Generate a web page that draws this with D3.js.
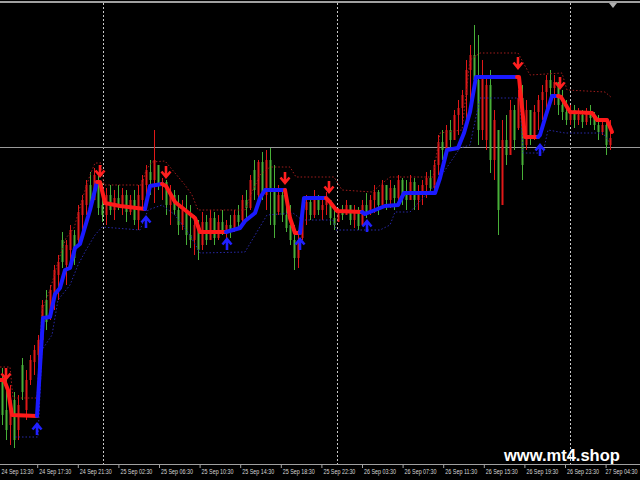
<!DOCTYPE html>
<html>
<head>
<meta charset="utf-8">
<script src="https://cdn.jsdelivr.net/npm/d3@7"></script>
<style>
  html, body { margin: 0; padding: 0; background: #000; }
  svg { display: block; }
</style>
</head>
<body>
<script>
// ---------------- DATA (price in points) ----------------
const opens = [100,70,55,80,50,115,70,100,118,125,140,180,162,185,205,240,215,230,245,240,265,275,295,280,300,275,265,285,270,282,275,285,268,280,260,280,295,308,300,315,295,298,275,285,270,255,270,245,240,255,235,258,240,262,242,258,250,255,250,265,260,280,272,310,285,318,285,320,290,268,285,265,255,240,222,242,270,278,265,282,270,275,280,262,258,268,265,275,260,268,255,275,268,280,288,275,295,280,292,282,300,285,280,298,280,288,295,302,292,315,338,330,350,340,365,372,385,410,425,400,350,340,395,320,350,275,340,325,370,352,382,335,370,345,368,380,388,400,392,398,375,368,360,370,360,365,358,368,362,355,348,355,335];
const highs = [112,108,95,88,85,122,110,125,135,145,180,190,195,215,225,248,240,255,250,275,285,300,308,312,305,297,292,295,290,295,292,290,285,290,295,305,315,320,350,315,302,300,295,290,285,280,285,275,265,260,268,265,270,268,265,270,260,265,270,275,285,290,305,320,320,328,330,332,315,295,290,280,275,255,250,275,285,280,290,285,282,288,280,275,272,275,280,275,275,273,280,287,285,295,290,300,295,300,295,305,302,300,305,302,295,300,308,310,320,345,350,355,360,370,380,390,420,435,455,445,420,405,410,370,350,360,365,380,375,390,395,380,370,375,385,395,405,410,405,395,390,380,375,375,372,370,372,375,368,365,362,360,360];
const lows = [55,40,35,32,40,80,60,95,105,112,135,150,160,170,180,212,195,218,215,235,245,265,268,280,265,258,255,265,260,270,265,258,265,255,250,270,280,285,277,290,280,265,255,265,245,250,235,232,225,220,230,235,240,235,240,245,240,242,248,252,258,262,270,280,277,280,270,255,242,265,258,248,235,210,212,240,255,260,262,265,260,265,255,250,258,260,265,255,252,250,255,262,265,267,265,275,270,272,270,280,275,270,280,270,270,275,282,285,290,305,320,330,332,340,345,355,360,380,385,335,340,330,307,300,245,275,315,335,330,350,300,330,335,340,350,360,370,380,375,365,360,355,355,352,355,352,355,355,350,340,345,325,330];
const closes = [65,50,80,40,75,88,100,120,130,140,175,158,190,210,218,218,235,250,222,268,280,295,275,305,272,265,285,270,282,275,285,268,280,260,285,300,310,300,320,295,298,275,285,270,255,270,245,240,255,230,258,240,262,242,258,250,255,248,265,258,280,272,300,290,318,285,320,290,255,285,265,252,240,222,240,270,278,265,282,270,275,280,262,255,268,265,275,260,268,254,275,268,280,288,275,295,280,292,282,300,285,280,298,280,288,295,302,292,315,338,330,350,340,365,372,385,410,425,400,350,405,395,320,360,270,340,325,370,340,382,315,370,345,368,380,388,400,392,398,375,368,360,370,360,365,358,368,362,355,348,355,335,342];

// trend line knots (bar position, value, direction)
const trendIdx = [-0.5,0.5,1.5,2.5,8.75,10.25,12,13.25,14.5,15.75,17,18.25,19.5,20.75,22,23.75,24.5,25.75,29.5,35.75,37,40,41,43.25,45.75,48.25,49.5,56,59.5,60.75,63.25,64.5,65.75,70.75,72,73.25,74.5,75.5,81,82,83.75,90,90.75,95.75,99,100.5,108.25,109.5,111.25,114,115.5,117,118.5,128.75,129.25,130.75,134,134.5,136,137.5,139,139.75,142,147.5,148.75,151.25,152.5];
const trendVal = [100,100,90,65,64,162,163,186,192,210,212,232,236,253,270,298,298,277,274,271,294,296,294,278,270,262,248,248,252,259,267,282,290,290,262,247,247,282,282,278,269,268,266,274,275,287,287,302,330,332,347,368,403,403,403,343,343,345,365,384,384,383,368,367,360,360,348];
const trendDir = ["up","dn","dn","dn","dn","up","up","up","up","up","up","up","up","up","up","up","dn","dn","dn","dn","up","up","dn","dn","dn","dn","dn","dn","up","up","up","up","up","up","dn","dn","dn","up","up","dn","dn","dn","up","up","up","up","up","up","up","up","up","up","up","up","dn","dn","dn","up","up","up","up","dn","dn","dn","dn","dn","dn"];

// upper / lower envelope knots
const upperIdx = [-0.5,2,2.75,8.75,10,12,14,16,18,20,22,23.25,24.75,25.5,35,36,37.5,40.75,43.25,45.75,47.5,49,60.75,62.5,64.5,67,72,73.5,83,85,92.5,97,107.75,109.5,115,117,119.5,129,132,140,141.25,150.75,152.5];
const upperVal = [113,113,82,82,170,190,218,242,252,280,305,317,317,295,295,310,318,319,307,295,285,270,270,288,305,313,313,303,303,290,288,303,303,347,350,420,427,427,405,407,390,388,382];
const lowerIdx = [3.25,9,10,12.5,14,17,19,21,23.25,25,34.5,36.5,40,43.25,47,49.5,60.75,66.25,72.75,75,82.75,83.5,94.5,97,98.25,102,108.25,114.5,117,119.5,129.5,130.25,135.25,136.5,140.75,150.25,152];
const lowerVal = [43,43,130,145,180,195,215,230,245,253,250,270,275,265,245,227,228,265,267,260,260,250,250,255,268,268,295,332,335,382,382,327,327,350,347,347,337];

// signal arrows
const sellIdx = [1,24.5,41,70.75,81.75,129,139.5];
const sellVal = [106,309,308,302,293,417,397];
const buyIdx = [8.75,36,56.25,74.5,91.25,134.5];
const buyVal = [51,258,236,236,254,330];

// day separators, bid line
const daySepIdx = [25.25,83.75,142];
const bidPrice = 333;

// time axis
const tickIdx = [-1.35,8.8,18.95,29.1,39.25,49.4,59.55,69.7,79.85,90,100.15,110.3,120.45,130.6,140.75,150.9];
const tickLabels = ["24 Sep 13:30","24 Sep 17:30","24 Sep 21:30","25 Sep 02:30","25 Sep 06:30","25 Sep 10:30","25 Sep 14:30","25 Sep 18:30","25 Sep 22:30","26 Sep 03:30","26 Sep 07:30","26 Sep 11:30","26 Sep 15:30","26 Sep 19:30","26 Sep 23:30","27 Sep 04:30"];

// ---------------- DRAW ----------------
const W = 640, H = 480, plotTop = 3, plotBottom = 464;
const x = d3.scaleLinear().domain([-0.5, 159.5]).range([0, W]);
const y = d3.scaleLinear().domain([0, 480]).range([480, 0]);

const svg = d3.select("body").append("svg").attr("width", W).attr("height", H)
  .style("background", "#000");
svg.append("rect").attr("width", W).attr("height", H).attr("fill", "#000");

svg.append("defs").append("clipPath").attr("id", "plot")
  .append("rect").attr("x", 0).attr("y", plotTop).attr("width", W).attr("height", plotBottom - plotTop);

const g = svg.append("g").attr("clip-path", "url(#plot)");

// day separators
g.selectAll("line.sep").data(daySepIdx).join("line")
  .attr("x1", d => Math.round(x(d)) + 0.5).attr("x2", d => Math.round(x(d)) + 0.5)
  .attr("y1", plotTop).attr("y2", plotBottom)
  .attr("stroke", "#c8c8c8").attr("stroke-width", 1).attr("stroke-dasharray", "2,2");

// bid line
g.append("line").attr("x1", 0).attr("x2", W)
  .attr("y1", Math.round(y(bidPrice)) + 0.5).attr("y2", Math.round(y(bidPrice)) + 0.5)
  .attr("stroke", "#9a9a9a").attr("stroke-width", 1);

// candles
const bars = d3.range(opens.length).map(i => ({i, o: opens[i], h: highs[i], l: lows[i], c: closes[i]}));
const col = d => d.c >= d.o ? "#e01818" : "#48b038";
g.selectAll("line.wick").data(bars).join("line")
  .attr("x1", d => x(d.i) + 0.5).attr("x2", d => x(d.i) + 0.5)
  .attr("y1", d => y(d.h)).attr("y2", d => y(d.l))
  .attr("stroke", col).attr("stroke-width", 1);
g.selectAll("rect.body").data(bars).join("rect")
  .attr("x", d => x(d.i) - 0.5).attr("width", 2)
  .attr("y", d => y(Math.max(d.o, d.c)))
  .attr("height", d => Math.max(1, Math.abs(y(d.o) - y(d.c))))
  .attr("fill", col);

// envelopes
const line = d3.line().x(d => x(d[0])).y(d => y(d[1]));
g.append("path").attr("d", line(upperIdx.map((v, k) => [v, upperVal[k]])))
  .attr("fill", "none").attr("stroke", "#a01c1c").attr("stroke-width", 1).attr("stroke-dasharray", "1.5,2");
g.append("path").attr("d", line(lowerIdx.map((v, k) => [v, lowerVal[k]])))
  .attr("fill", "none").attr("stroke", "#2828a8").attr("stroke-width", 1).attr("stroke-dasharray", "1.5,2");

// trend line: runs of same colour
const runs = [];
for (let k = 1; k < trendIdx.length; k++) {
  const dir = trendDir[k];
  const last = runs[runs.length - 1];
  if (last && last.dir === dir) last.pts.push([trendIdx[k], trendVal[k]]);
  else runs.push({dir, pts: [[trendIdx[k - 1], trendVal[k - 1]], [trendIdx[k], trendVal[k]]]});
}
g.selectAll("path.trend").data(runs).join("path")
  .attr("d", d => line(d.pts)).attr("fill", "none")
  .attr("stroke", d => d.dir === "up" ? "#1a1aff" : "#ff1a1a")
  .attr("stroke-width", 4).attr("stroke-linejoin", "round").attr("stroke-linecap", "round");

// arrows
const arrowDown = "M0,-6 V4 M-4.5,-0.5 L0,5 L4.5,-0.5";
const arrowUp = "M0,6 V-4 M-4.5,0.5 L0,-5 L4.5,0.5";
g.selectAll("path.sell").data(sellIdx.map((v, k) => [v, sellVal[k]])).join("path")
  .attr("transform", d => `translate(${x(d[0])},${y(d[1])})`)
  .attr("d", arrowDown).attr("fill", "none").attr("stroke", "#ff2020").attr("stroke-width", 2.6);
g.selectAll("path.buy").data(buyIdx.map((v, k) => [v, buyVal[k]])).join("path")
  .attr("transform", d => `translate(${x(d[0])},${y(d[1])})`)
  .attr("d", arrowUp).attr("fill", "none").attr("stroke", "#2020ff").attr("stroke-width", 2.6);

// top border & shift marker
svg.append("line").attr("x1", 0).attr("x2", W).attr("y1", 2).attr("y2", 2)
  .attr("stroke", "#a0a0a0").attr("stroke-width", 2);
svg.append("path").attr("d", "M609,3 L617,3 L613,8 Z").attr("fill", "#b0b0b0");

// time axis
const labelW = 32;
const axis = d3.axisBottom(x).tickValues(tickIdx)
  .tickFormat((d, k) => tickLabels[k]).tickSizeInner(4).tickSizeOuter(0);
const ax = svg.append("g").attr("transform", `translate(0,${plotBottom})`).call(axis);
ax.select(".domain").attr("stroke", "#a0a0a0").attr("d", `M0,0.5H${W}`);
ax.selectAll(".tick line").attr("stroke", "#a0a0a0");
ax.selectAll(".tick text").attr("fill", "#d8d8d8").attr("text-anchor", "start")
  .attr("x", 0).attr("y", 5).attr("dy", "0.71em")
  .style("font-family", "'Liberation Sans', Arial, sans-serif").style("font-size", "7px")
  .each(function(d) {
    const natural = this.getComputedTextLength();
    const sx = labelW / natural;
    const tx = Math.min(Math.max(1.5, 1 - x(d)), W - 3 - labelW - x(d));
    d3.select(this).attr("transform", `translate(${tx},0) scale(${sx},1)`);
  });

// watermark
svg.append("text").attr("x", 504).attr("y", 461).text("www.mt4.shop")
  .attr("fill", "#ffffff").style("font-family", "'Liberation Sans', Arial, sans-serif")
  .style("font-weight", "bold").style("font-size", "16.5px");
</script>
</body>
</html>
